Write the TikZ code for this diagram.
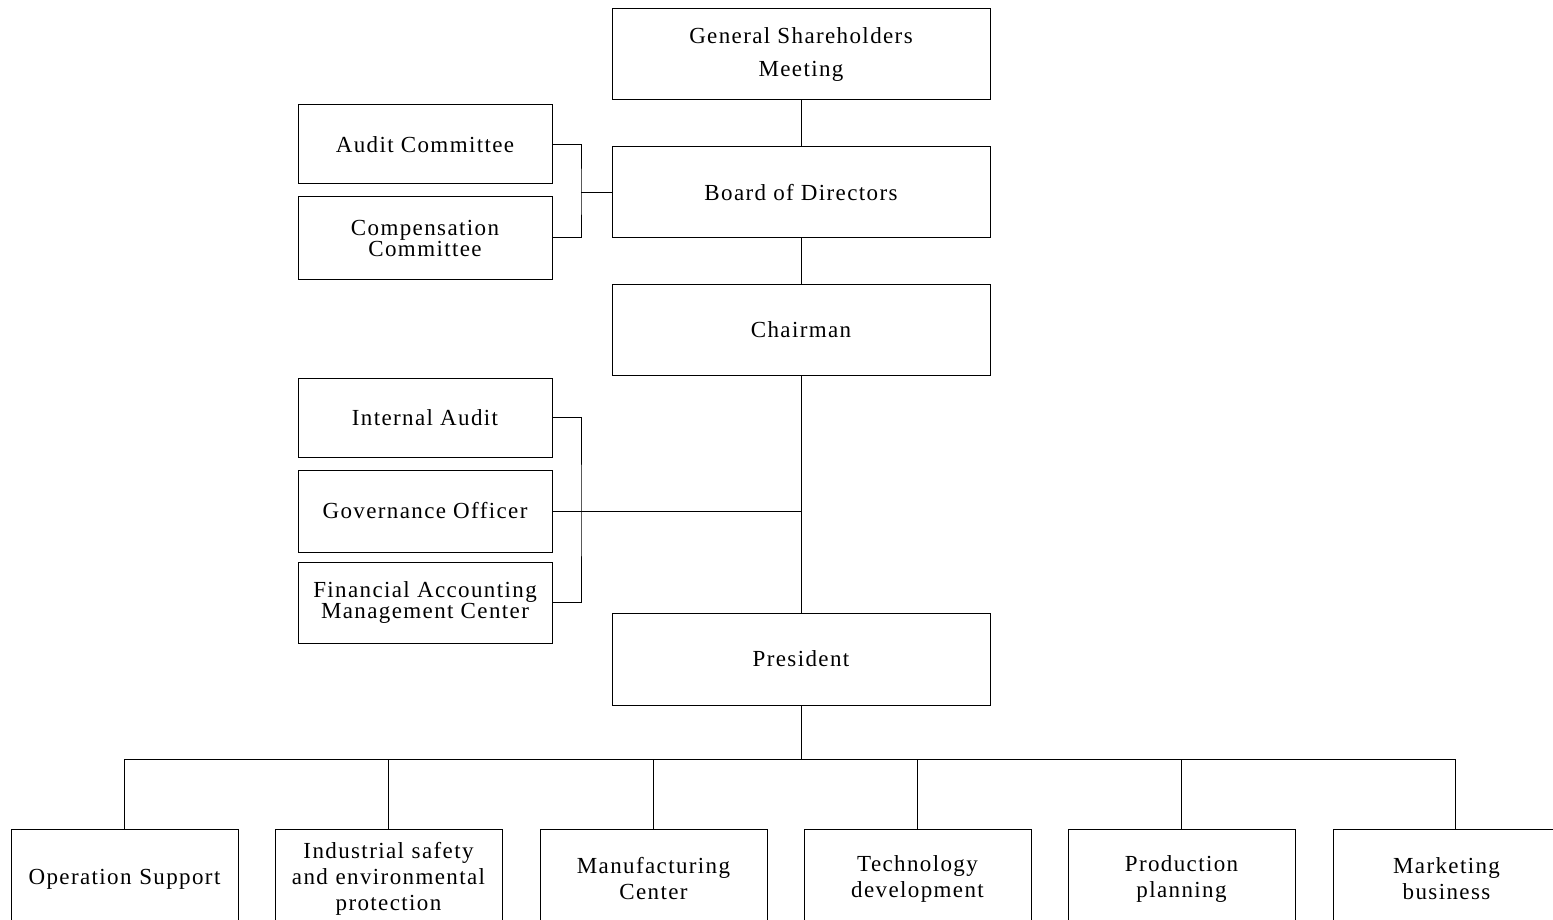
\documentclass[tikz,border=0pt]{standalone}
\usepackage{fontspec}
\setmainfont[LetterSpace=6]{Liberation Serif}
\begin{document}
\begin{tikzpicture}[x=1pt,y=-1pt,
  box/.style={draw, line width=1pt, inner sep=0pt, align=center, font=\fontsize{23}{21}\selectfont},
  big/.style={box, minimum width=378pt, minimum height=91pt},
  side/.style={box, minimum width=254pt},
  dept/.style={box, minimum width=227pt, minimum height=100pt, text width=220pt, font=\fontsize{23}{26}\selectfont},
  conn/.style={line width=1pt}]
\useasboundingbox (0,0) rectangle (1553,920);
\clip (0,0) rectangle (1553,920);
% main column
\node[big, font=\fontsize{23}{33}\selectfont] (gsm) at (801,54.5) {General Shareholders\\Meeting};
\node[big] (board) at (801,192.5) {Board of Directors};
\node[big] (chair) at (801,329.5) {Chairman};
\node[big, minimum height=92pt] (pres) at (801,659) {President};
% committees
\node[side, minimum height=79pt] (audit) at (425,144.5) {Audit Committee};
\node[side, minimum height=82pt] (comp) at (425,238) {Compensation\\Committee};
\node[side, minimum height=79pt] (ia) at (425,417.5) {Internal Audit};
\node[side, minimum height=82pt] (gov) at (425,511) {Governance Officer};
\node[side, minimum height=81pt] (fin) at (425,602.5) {Financial Accounting\\Management Center};
% departments
\node[dept] (d1) at (124.5,879) {Operation Support};
\node[dept] (d2) at (388.5,879) {Industrial safety\\and environmental\\protection};
\node[dept] (d3) at (653.5,879) {Manufacturing\\Center};
\node[dept] (d4) at (917.5,879) {Technology\\development};
\node[dept] (d5) at (1181.5,879) {Production\\planning};
\node[dept] (d6) at (1446.5,879) {Marketing\\business};
% coordinates
\coordinate (cb) at (581,192.5);
\coordinate (ib) at (581,511);
\coordinate (gj) at (801,511);
\coordinate (bus) at (801,759);
\coordinate (d6top) at (1455,829);
% connectors
\draw[conn] (gsm.south) -- (board.north);
\draw[conn] (board.south) -- (chair.north);
\draw[conn] (chair.south) -- (pres.north);
\draw[conn] (audit.east) -| (cb) |- (comp.east);
\draw[conn] (cb) -- (board.west);
\draw[conn] (ia.east) -| (ib) |- (fin.east);
\draw[conn] (gov.east) -- (gj);
\draw[conn] (pres.south) -- (bus);
\draw[conn] (d1.north |- bus) -- (d6top |- bus);
\foreach \d in {d1,d2,d3,d4,d5}
  \draw[conn] (\d.north) -- (\d.north |- bus);
\draw[conn] (d6top) -- (d6top |- bus);
\end{tikzpicture}
\end{document}
